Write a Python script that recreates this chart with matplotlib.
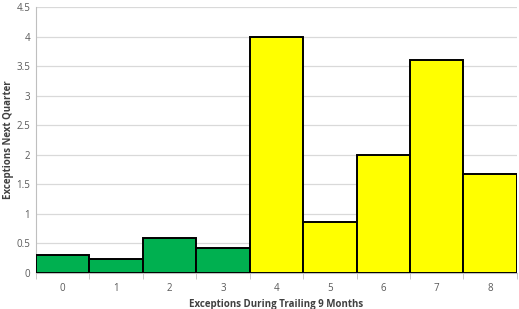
import matplotlib.pyplot as plt
import numpy as np

# exceptions during trailing 9 months vs exceptions next quarter
categories = [0, 1, 2, 3, 4, 5, 6, 7, 8]
values = [0.30, 0.23, 0.59, 0.42, 4.0, 0.86, 2.0, 3.60, 1.67]
bar_colors = ['#00B050'] * 4 + ['#FFFF00'] * 5
yticks = [0, 0.5, 1, 1.5, 2, 2.5, 3, 3.5, 4, 4.5]
ytick_labels = ['0', '0.5', '1', '1.5', '2', '2.5', '3', '3.5', '4', '4.5']

plt.rcParams['font.family'] = ['Open Sans', 'DejaVu Sans']

fig = plt.figure(figsize=(5.19, 3.09), dpi=100)
ax = fig.add_axes([0.069, 0.1165, 0.927, 0.8605])

x = np.arange(len(categories))
ax.bar(x, values, width=1.0, color=bar_colors, edgecolor='black', linewidth=1.4, zorder=3)

ax.set_xlim(-0.5, len(categories) - 0.5)
ax.set_ylim(0, 4.5)
ax.set_yticks(yticks)
ax.set_yticklabels(ytick_labels)
ax.set_xticks(x)
ax.set_xticklabels([str(c) for c in categories])
# tick marks sit between the categories
ax.set_xticks(np.arange(-0.5, len(categories), 1.0), minor=True)
ax.tick_params(axis='x', which='major', length=0, pad=7, labelsize=7, labelcolor='#595959')
ax.tick_params(axis='x', which='minor', length=4, color='#BFBFBF')
ax.tick_params(axis='y', length=0, pad=4, labelsize=7, labelcolor='#595959')

ax.grid(axis='y', color='#D9D9D9', linewidth=0.9, zorder=0)
for s in ['top', 'right']:
    ax.spines[s].set_visible(False)
ax.spines['left'].set_color('#BFBFBF')
ax.spines['bottom'].set_color('#BFBFBF')

ax.set_xlabel('Exceptions During Trailing 9 Months', fontsize=7, fontweight='bold',
              color='#404040', labelpad=4)
ax.set_ylabel('Exceptions Next Quarter', fontsize=7, fontweight='bold',
              color='#404040', labelpad=2)

fig.savefig('out.png', dpi=100)
